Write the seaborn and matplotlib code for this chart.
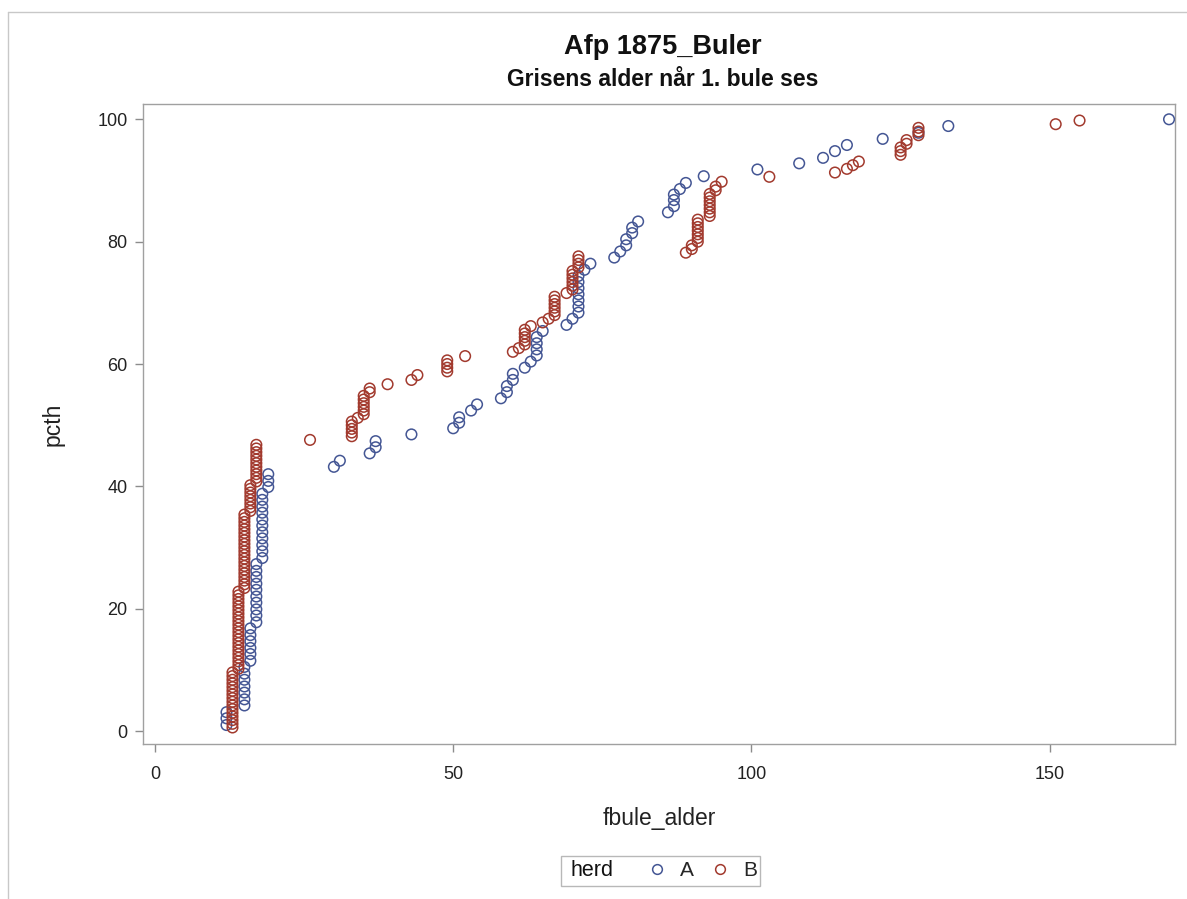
import matplotlib
matplotlib.use("Agg")
import matplotlib.pyplot as plt
from matplotlib.lines import Line2D
from matplotlib.patches import Rectangle
import seaborn as sns
import pandas as pd

# ---- data ----
a_age = [12, 12, 12,
         15, 15, 15, 15, 15, 15, 15,
         16, 16, 16, 16, 16, 16,
         17, 17, 17, 17, 17, 17, 17, 17, 17, 17,
         18, 18, 18, 18, 18, 18, 18, 18, 18, 18, 18,
         19, 19, 19,
         30, 31, 36, 37, 37, 43, 50, 51, 51, 53, 54, 58, 59, 59, 60, 60,
         62, 63, 64, 64, 64, 64, 65, 69, 70,
         71, 71, 71, 71, 71, 71, 71, 72, 73,
         77, 78, 79, 79, 80, 80, 81, 86, 87, 87, 87, 88, 89, 92,
         101, 108, 112, 114, 116, 122, 128, 133, 170]
a_pcth = [1.0, 2.1, 3.1,
          4.2, 5.2, 6.3, 7.3, 8.4, 9.4, 10.5,
          11.5, 12.6, 13.6, 14.7, 15.7, 16.8,
          17.8, 18.9, 19.9, 21.0, 22.0, 23.1, 24.1, 25.2, 26.2, 27.3,
          28.3, 29.4, 30.4, 31.5, 32.5, 33.6, 34.6, 35.7, 36.7, 37.8, 38.8,
          39.9, 40.9, 42.0,
          43.2, 44.2, 45.4, 46.4, 47.4, 48.5, 49.5, 50.4, 51.3, 52.4, 53.4, 54.4, 55.4, 56.4, 57.4, 58.4,
          59.4, 60.4, 61.4, 62.4, 63.4, 64.4, 65.4, 66.4, 67.4,
          68.4, 69.4, 70.4, 71.4, 72.4, 73.4, 74.4, 75.4, 76.4,
          77.4, 78.4, 79.4, 80.4, 81.4, 82.3, 83.3, 84.8, 85.8, 86.8, 87.7, 88.6, 89.6, 90.7,
          91.8, 92.8, 93.7, 94.8, 95.8, 96.8, 97.8, 98.9, 100.0]

b_age = [13] * 16 + [14] * 22 + [15] * 21 + [16] * 8 + [17] * 11 + \
        [26, 33, 33, 33, 33, 33, 34, 35, 35, 35, 35, 35, 35, 36, 36, 39, 43, 44,
         49, 49, 49, 49, 52, 60, 61, 62, 62, 62, 62, 62, 63, 65, 66,
         67, 67, 67, 67, 67, 67, 69, 70, 70, 70, 70, 70, 70, 71, 71, 71, 71,
         89, 90, 90, 91, 91, 91, 91, 91, 91, 91, 93, 93, 93, 93, 93, 93, 93,
         94, 94, 95, 103, 114, 116, 117, 118, 125, 125, 125, 126, 126,
         128, 128, 128, 151, 155]
b_pcth = [0.6, 1.2, 1.8, 2.4, 3.0, 3.6, 4.2, 4.8, 5.4, 6.0, 6.6, 7.2, 7.8, 8.4, 9.0, 9.6,
          10.2, 10.8, 11.4, 12.0, 12.6, 13.2, 13.8, 14.4, 15.0, 15.6, 16.2, 16.8, 17.4, 18.0,
          18.6, 19.2, 19.8, 20.4, 21.0, 21.6, 22.2, 22.8,
          23.4, 24.0, 24.6, 25.2, 25.8, 26.4, 27.0, 27.6, 28.2, 28.8, 29.4, 30.0, 30.6, 31.2,
          31.8, 32.4, 33.0, 33.6, 34.2, 34.8, 35.4,
          36.0, 36.6, 37.2, 37.8, 38.4, 39.0, 39.6, 40.2,
          40.8, 41.4, 42.0, 42.6, 43.2, 43.8, 44.4, 45.0, 45.6, 46.2, 46.8,
          47.6, 48.2, 48.8, 49.4, 50.0, 50.6, 51.2, 51.8, 52.4, 53.0, 53.6, 54.2, 54.8,
          55.4, 56.0, 56.7, 57.4, 58.2,
          58.8, 59.4, 60.0, 60.6, 61.3, 62.0, 62.6, 63.2, 63.8, 64.4, 65.0, 65.6, 66.2, 66.8, 67.4,
          68.0, 68.6, 69.2, 69.8, 70.4, 71.0, 71.6, 72.2, 72.8, 73.4, 74.0, 74.6, 75.2,
          75.8, 76.4, 77.0, 77.6,
          78.2, 78.8, 79.4, 80.0, 80.6, 81.2, 81.8, 82.4, 83.0, 83.6,
          84.2, 84.8, 85.4, 86.0, 86.6, 87.2, 87.8,
          88.4, 89.0, 89.8, 90.6, 91.3, 91.9, 92.5, 93.1, 94.2, 94.8, 95.4, 96.0, 96.6,
          97.4, 98.0, 98.6, 99.2, 99.8]

herds = ["A", "B"]
colors = {"A": "#445694", "B": "#A23A2E"}
title = "Afp 1875_Buler"
subtitle = "Grisens alder når 1. bule ses"
legend_title = "herd"
x_ticks = [0, 50, 100, 150]
y_ticks = [0, 20, 40, 60, 80, 100]

df = pd.DataFrame({
    "fbule_alder": a_age + b_age,
    "pcth": a_pcth + b_pcth,
    "herd": ["A"] * len(a_age) + ["B"] * len(b_age),
})

sns.set_theme(style="white")
plt.rcParams["font.family"] = ["Liberation Sans", "DejaVu Sans"]

W, H = 1187, 899
fig = plt.figure(figsize=(W / 100, H / 100), dpi=100)
ax = fig.add_axes([143 / W, 1 - 744 / H, (1175 - 143) / W, (744 - 104) / H])

sns.scatterplot(data=df, x="fbule_alder", y="pcth", hue="herd", hue_order=herds,
                palette=colors, ax=ax, legend=False, marker="o", s=58,
                linewidth=1.1, zorder=3)
coll = ax.collections[0]
coll.set_facecolor("none")
coll.set_edgecolors([colors[h] for h in df["herd"]])

ax.set_xlim(-2, 171)
ax.set_ylim(-2.1, 102.5)
ax.set_xticks(x_ticks)
ax.set_yticks(y_ticks)
ax.tick_params(axis="both", which="both", length=6, width=1, color="#8c8c8c",
               direction="out", labelsize=13, labelcolor="#222222",
               bottom=True, left=True)
ax.tick_params(axis="x", pad=10)
ax.tick_params(axis="y", pad=5)
for sp in ax.spines.values():
    sp.set_color("#a0a0a0")
    sp.set_linewidth(1)
ax.set_xlabel("fbule_alder", fontsize=16.5, color="#222222", labelpad=17)
ax.set_ylabel("pcth", fontsize=16.5, color="#222222", labelpad=24)
ax.grid(False)

fig.text(0.558, 1 - 47 / H, title, ha="center", va="center", fontsize=19.5,
         fontweight="bold", color="#111111")
fig.text(0.558, 1 - 79 / H, subtitle, ha="center", va="center", fontsize=16.5,
         fontweight="bold", color="#111111")

# legend: frame + title text on the left + entries
fig.add_artist(Rectangle((561 / W, 1 - 886 / H), (760 - 561) / W, 30 / H,
                         transform=fig.transFigure, fill=False,
                         edgecolor="#b8b8b8", linewidth=1))
fig.text(571 / W, 1 - 871 / H, legend_title, ha="left", va="center",
         fontsize=15.5, color="#111111")
handles = [Line2D([], [], linestyle="none", marker="o", markerfacecolor="none",
                  markeredgecolor=colors[h], markersize=7, markeredgewidth=1.1)
           for h in herds]
leg = fig.legend(handles, herds, ncol=2, loc="center left",
                 bbox_to_anchor=(649 / W, 1 - 871 / H), frameon=False,
                 fontsize=15, handlelength=0.8, handletextpad=0.7,
                 columnspacing=0.85, borderpad=0, borderaxespad=0)

fig.add_artist(Line2D([8 / W, 1], [1 - 12 / H, 1 - 12 / H], color="#c8c8c8", lw=1))
fig.add_artist(Line2D([8 / W, 8 / W], [0, 1 - 12 / H], color="#c8c8c8", lw=1))

fig.savefig("out.png", dpi=100)
